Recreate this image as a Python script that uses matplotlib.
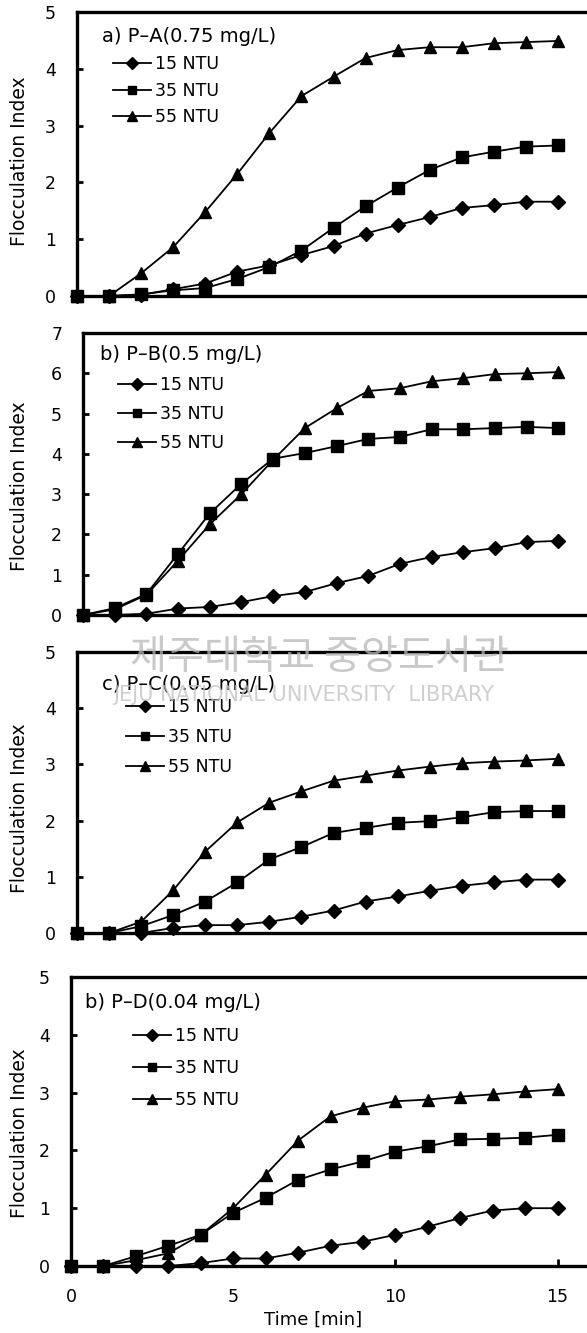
import matplotlib
matplotlib.use("Agg")
import matplotlib.pyplot as plt

# flocculation index vs. time for four coagulants at three turbidities
time_min = list(range(16))
turbidity_labels = ["15 NTU", "35 NTU", "55 NTU"]

pa_15 = [0, 0, 0.02, 0.12, 0.22, 0.43, 0.54, 0.72, 0.88, 1.10, 1.25, 1.39, 1.55, 1.60, 1.66, 1.66]
pa_35 = [0, 0, 0.03, 0.10, 0.14, 0.30, 0.51, 0.80, 1.20, 1.58, 1.91, 2.22, 2.44, 2.54, 2.63, 2.65]
pa_55 = [0, 0, 0.40, 0.86, 1.48, 2.15, 2.87, 3.52, 3.86, 4.19, 4.33, 4.38, 4.38, 4.45, 4.47, 4.49]

pb_15 = [0, 0, 0.03, 0.16, 0.20, 0.32, 0.47, 0.57, 0.79, 0.97, 1.27, 1.44, 1.56, 1.66, 1.81, 1.84]
pb_35 = [0, 0.17, 0.52, 1.52, 2.52, 3.26, 3.88, 4.02, 4.19, 4.37, 4.42, 4.61, 4.61, 4.64, 4.67, 4.64]
pb_55 = [0, 0.14, 0.50, 1.35, 2.25, 3.00, 3.85, 4.64, 5.13, 5.56, 5.63, 5.80, 5.88, 5.98, 6.00, 6.03]

pc_15 = [0, 0, 0, 0.09, 0.14, 0.14, 0.20, 0.29, 0.40, 0.56, 0.65, 0.75, 0.84, 0.90, 0.95, 0.95]
pc_35 = [0, 0, 0.12, 0.32, 0.56, 0.90, 1.31, 1.53, 1.78, 1.87, 1.96, 1.99, 2.06, 2.15, 2.17, 2.17]
pc_55 = [0, 0, 0.20, 0.76, 1.45, 1.97, 2.32, 2.52, 2.71, 2.80, 2.89, 2.96, 3.02, 3.05, 3.07, 3.10]

pd_15 = [0, 0, 0, 0, 0.05, 0.13, 0.13, 0.23, 0.35, 0.42, 0.54, 0.68, 0.83, 0.96, 1.00, 1.00]
pd_35 = [0, 0, 0.17, 0.35, 0.54, 0.92, 1.18, 1.49, 1.67, 1.81, 1.98, 2.07, 2.19, 2.20, 2.22, 2.27]
pd_55 = [0, 0, 0.10, 0.22, 0.54, 1.00, 1.58, 2.17, 2.59, 2.74, 2.85, 2.88, 2.93, 2.97, 3.02, 3.06]

panel_titles = ["a) P–A(0.75 mg/L)", "b) P–B(0.5 mg/L)", "c) P–C(0.05 mg/L)", "b) P–D(0.04 mg/L)"]
panel_series = [
    (pa_15, pa_35, pa_55),
    (pb_15, pb_35, pb_55),
    (pc_15, pc_35, pc_55),
    (pd_15, pd_35, pd_55),
]
panel_ymax = [5, 7, 5, 5]

W, H = 587, 1333
plt.rcParams["font.family"] = ["DejaVu Sans"]

# pixel layout: left, top, bottom of each frame; legend/title placement
frames = [(77, 12, 296), (83, 333, 615), (77, 652, 933), (71, 977, 1266)]
title_pos = [(102, 37), (100, 355), (102, 685), (85, 1003)]
legend_pos = [(113, 55), (118, 376), (126, 698), (133, 1027)]
legend_gap = [0.5, 0.64, 0.7, 0.82]
ylabel_y = [161, 486, 808, 1133]
markers = ["D", "s", "^"]
msizes = [7.5, 8, 9]


def fx(px):
    return px / W


def fy(py):
    return 1 - py / H


fig = plt.figure(figsize=(W / 100, H / 100), dpi=100)

for i, (left, top, bottom) in enumerate(frames):
    right = 590
    ax = fig.add_axes([fx(left), fy(bottom), fx(right - left), (bottom - top) / H])
    for series, label, m, ms in zip(panel_series[i], turbidity_labels, markers, msizes):
        ax.plot(time_min, series, color="black", lw=1.3, marker=m, ms=ms,
                label=label, clip_on=False, zorder=3)

    ax.set_xlim(0, 16)
    ax.set_ylim(0, panel_ymax[i])
    ax.set_yticks(range(panel_ymax[i] + 1))
    ax.spines["right"].set_visible(False)
    for side in ("left", "top", "bottom"):
        ax.spines[side].set_linewidth(2.4)
    ax.tick_params(axis="y", direction="in", length=4, width=2, pad=15, labelsize=12.5)
    if i < 3:
        ax.tick_params(axis="x", bottom=False, labelbottom=False)
    else:
        ax.set_xticks([0, 5, 10, 15])
        ax.tick_params(axis="x", direction="in", length=5, width=2, pad=16, labelsize=12.5)

    tx, ty = title_pos[i]
    fig.text(fx(tx), fy(ty), panel_titles[i], fontsize=14, va="center", ha="left")

    lx, ly = legend_pos[i]
    ax.legend(loc="upper left", bbox_to_anchor=(fx(lx), fy(ly)), bbox_transform=fig.transFigure,
              frameon=False, fontsize=12.5, handlelength=2.2, handletextpad=0.2,
              labelspacing=legend_gap[i], borderpad=0, borderaxespad=0, markerscale=0.8)

    fig.text(fx(20), fy(ylabel_y[i]), "Flocculation Index", rotation=90,
             fontsize=13.5, ha="center", va="center")

fig.text(fx(313), fy(1320), "Time [min]", fontsize=13, ha="center", va="center")

# library watermark
fig.text(fx(130), fy(658), "제주대학교 중앙도서관", family=["Noto Sans CJK KR", "DejaVu Sans"],
         fontsize=29, color="#b8b8b8", alpha=0.75, ha="left", va="center")
fig.text(fx(113), fy(695), "JEJU NATIONAL UNIVERSITY  LIBRARY", fontsize=15,
         color="#c0c0c0", alpha=0.75, ha="left", va="center")

fig.savefig("out.png", dpi=100)
